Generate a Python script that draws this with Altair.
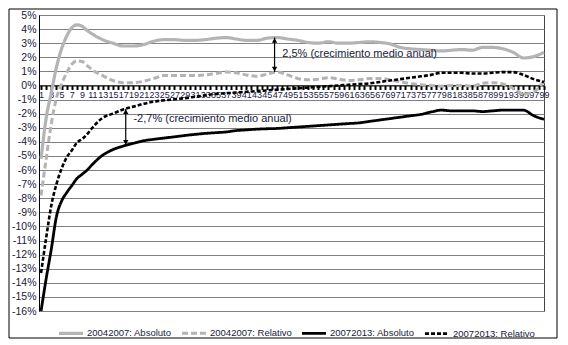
import altair as alt
import pandas as pd

# Percentiles (categories on the x axis) at which the curves were read
pct = [1, 2, 3, 4, 5, 6, 7, 8, 9, 10, 11, 13, 15, 17, 19, 21, 23, 25, 27, 29,
       31, 33, 35, 37, 39, 41, 43, 45, 47, 49, 51, 53, 55, 57, 59, 61, 63, 65,
       67, 69, 71, 73, 75, 77, 79, 81, 83, 85, 87, 89, 91, 93, 95, 97, 99]

abs_0407 = [-5.2, -2.3, -0.5, 1.3, 2.6, 3.5, 4.1, 4.3, 4.2, 3.9, 3.65, 3.25, 3.0, 2.8, 2.8,
            2.9, 3.15, 3.25, 3.25, 3.2, 3.2, 3.25, 3.35, 3.4, 3.3, 3.2, 3.2, 3.35, 3.4, 3.3,
            3.2, 3.05, 3.0, 3.1, 3.0, 3.0, 3.05, 3.1, 3.05, 2.95, 2.7, 2.6, 2.55, 2.5, 2.45,
            2.5, 2.55, 2.5, 2.7, 2.7, 2.6, 2.35, 1.95, 2.05, 2.35]

rel_0407 = [-7.8, -5.2, -2.7, -0.9, 0.1, 0.9, 1.5, 1.75, 1.7, 1.4, 1.1, 0.7, 0.35, 0.2, 0.2,
            0.3, 0.5, 0.7, 0.7, 0.7, 0.7, 0.75, 0.85, 0.95, 0.9, 0.75, 0.65, 0.8, 0.95, 0.75,
            0.5, 0.4, 0.45, 0.55, 0.45, 0.35, 0.4, 0.5, 0.5, 0.4, 0.25, 0.15, 0.05, 0.0, -0.05,
            0.0, 0.0, -0.05, 0.15, 0.2, 0.1, -0.2, -0.6, -0.45, 0.3]

abs_0713 = [-16.0, -13.7, -11.6, -9.3, -8.2, -7.6, -7.1, -6.6, -6.3, -6.0, -5.6, -4.95, -4.55,
            -4.3, -4.1, -3.92, -3.82, -3.73, -3.64, -3.55, -3.47, -3.4, -3.35, -3.3, -3.2,
            -3.15, -3.1, -3.07, -3.05, -3.0, -2.95, -2.9, -2.85, -2.8, -2.75, -2.7, -2.65,
            -2.55, -2.45, -2.35, -2.25, -2.15, -2.05, -1.88, -1.75, -1.8, -1.8, -1.8, -1.85,
            -1.8, -1.75, -1.75, -1.75, -2.15, -2.4]

rel_0713 = [-13.3, -10.8, -8.5, -7.0, -5.9, -5.1, -4.6, -4.05, -3.8, -3.45, -3.0, -2.3, -2.0,
            -1.7, -1.5, -1.3, -1.15, -1.05, -0.98, -0.9, -0.8, -0.7, -0.6, -0.55, -0.5, -0.45,
            -0.4, -0.35, -0.3, -0.25, -0.2, -0.15, -0.1, -0.05, 0.0, 0.05, 0.1, 0.15, 0.25,
            0.35, 0.45, 0.55, 0.65, 0.75, 0.9, 0.9, 0.9, 0.85, 0.85, 0.9, 0.95, 0.95, 0.75,
            0.45, 0.25]

series_names = ["20042007: Absoluto", "20042007: Relativo",
                "20072013: Absoluto", "20072013: Relativo"]
series_values = [abs_0407, rel_0407, abs_0713, rel_0713]

# Annotations (double arrows + text)
ann_c = [17.5, 46.5]
ann_top = [-1.65, 3.4]
ann_bot = [-4.25, 0.95]
ann_text = ["-2,7% (crecimiento medio anual)", "2,5% (crecimiento medio anual)"]
ann_text_c = [19, 48]
ann_text_v = [-2.35, 2.2]

x_tick_values = list(range(1, 100))
y_tick_values = list(range(-16, 6))

W, H = 505, 296
FONT = "Liberation Sans, Arial, sans-serif"
TXT = "#18213a"

rows = []
for name, vals in zip(series_names, series_values):
    for c, v in zip(pct, vals):
        rows.append({"c": c, "v": v, "serie": name})
df = pd.DataFrame(rows)

ann_df = pd.DataFrame({"c": ann_c, "top": ann_top, "bot": ann_bot})
txt_df = pd.DataFrame({"c": ann_text_c, "v": ann_text_v, "t": ann_text})

x_scale = alt.Scale(domain=[0.6, 99], nice=False, zero=False)
y_scale = alt.Scale(domain=[-16, 5], nice=False, zero=False)

x_axis = alt.Axis(values=x_tick_values,
                  labelExpr="datum.value % 2 == 1 ? datum.label : ''",
                  offset=-(H * 16 / 21), grid=False, domainColor="black",
                  domainWidth=1, tickColor="black", tickSize=4, tickWidth=2,
                  labelFontSize=9, labelPadding=1, labelOverlap=False,
                  labelFlush=False, labelColor=TXT, labelFont=FONT, title=None)
y_axis = alt.Axis(values=y_tick_values, labelExpr="datum.value + '%'",
                  grid=True, gridColor="#808080", gridWidth=1, domainColor="black",
                  ticks=False, labelPadding=3, labelFontSize=10.5, labelColor=TXT,
                  labelFont=FONT, labelOverlap=False, title=None)


def X(field):
    return alt.X(field, type="quantitative", scale=x_scale, axis=x_axis)


def Y(field):
    return alt.Y(field, type="quantitative", scale=y_scale, axis=y_axis)


legend = alt.Legend(orient="none", legendX=18, legendY=304, direction="horizontal",
                    columns=4, title=None, symbolType="stroke", symbolSize=576,
                    labelFontSize=9.5, labelFont=FONT, labelColor=TXT,
                    columnPadding=4, labelOffset=2)

lines = alt.Chart(df).mark_line(interpolate="monotone").encode(
    x=X("c"),
    y=Y("v"),
    color=alt.Color("serie:N", scale=alt.Scale(domain=series_names,
                    range=["#b4b4b4", "#b4b4b4", "#000000", "#000000"]), legend=legend),
    strokeDash=alt.StrokeDash("serie:N", scale=alt.Scale(domain=series_names,
                    range=[[1, 0], [6, 3], [1, 0], [4, 2]]), legend=legend),
    strokeWidth=alt.StrokeWidth("serie:N", scale=alt.Scale(domain=series_names,
                    range=[3.2, 2.6, 3.2, 1.5]), legend=legend),
)

arrows = alt.Chart(ann_df).mark_rule(color="black", strokeWidth=1.2).encode(
    x=X("c"), y=Y("top"), y2="bot:Q")
heads_up = alt.Chart(ann_df).mark_point(shape="triangle-up", filled=True, color="black",
                                        size=28, opacity=1, yOffset=3).encode(
    x=X("c"), y=Y("top"))
heads_dn = alt.Chart(ann_df).mark_point(shape="triangle-down", filled=True, color="black",
                                        size=28, opacity=1, yOffset=-3).encode(
    x=X("c"), y=Y("bot"))
texts = alt.Chart(txt_df).mark_text(align="left", baseline="middle", fontSize=11,
                                    font=FONT, color=TXT).encode(
    x=X("c"), y=Y("v"), text="t:N")

border = alt.Chart(pd.DataFrame({"a": [0]})).mark_rect(
    fillOpacity=0, stroke="black", strokeWidth=1).encode(
    x=alt.value(-30), x2=alt.value(W + 13), y=alt.value(-6), y2=alt.value(H + 27))

chart = alt.layer(lines, arrows, heads_up, heads_dn, texts, border).properties(
    width=W, height=H, padding=0, background="white"
).configure_view(stroke="#444", strokeWidth=1)

chart.save("out.html", embed_options={"renderer": "svg", "actions": False})
